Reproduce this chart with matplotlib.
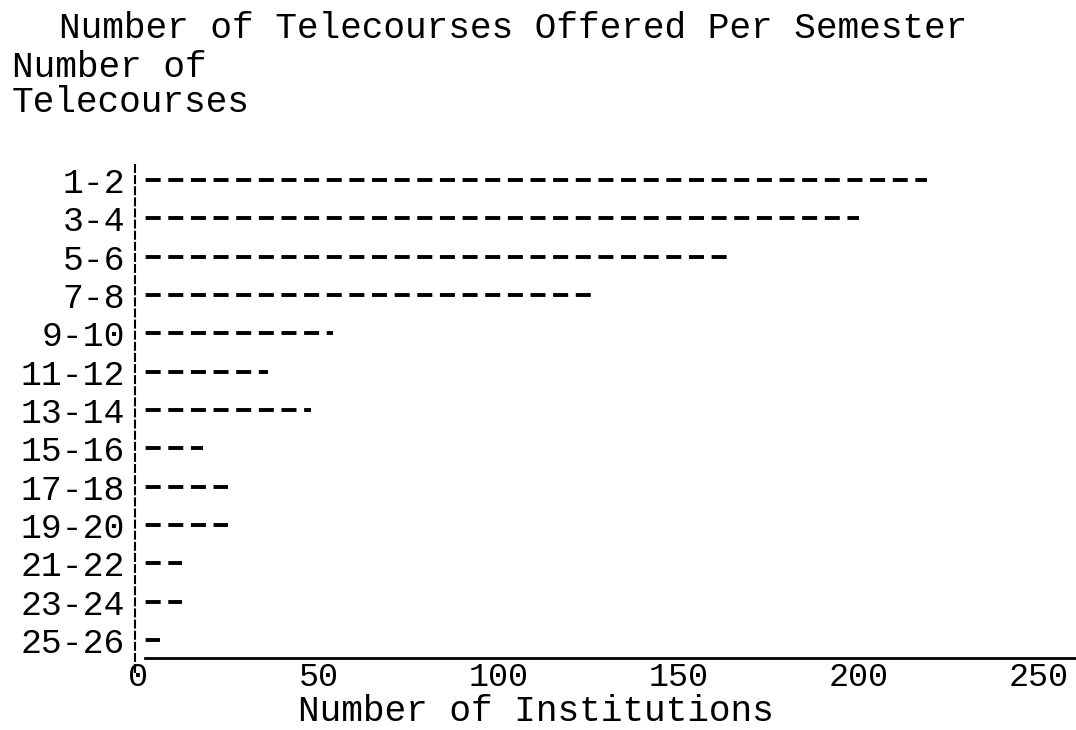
import matplotlib
matplotlib.use("Agg")
import matplotlib.pyplot as plt

categories = ["1-2", "3-4", "5-6", "7-8", "9-10", "11-12", "13-14",
              "15-16", "17-18", "19-20", "21-22", "23-24", "25-26"]
institutions = [219, 200, 164, 127, 54, 36, 48, 18, 25, 25, 12, 12, 6]
xticks = [0, 50, 100, 150, 200, 250]

plt.rcParams['lines.scale_dashes'] = False
FONT = "Liberation Mono"
W, H = 1076, 730

fig = plt.figure(figsize=(W / 100, H / 100), dpi=100)
# axes spans x 135..1076 px, y 165..672 px
ax = fig.add_axes([135 / W, (H - 672) / H, (W - 135) / W, (672 - 165) / H])

for s in ["top", "right"]:
    ax.spines[s].set_visible(False)
ax.spines["left"].set_linestyle((0, (5, 3)))
ax.spines["left"].set_linewidth(1.5)
ax.spines["bottom"].set_position(("data", 12.47))
ax.spines["bottom"].set_linewidth(2.0)

ypos = list(range(len(categories)))
ax.hlines(ypos, 0, institutions, colors="black", linewidth=2.8,
          linestyles=[(10.8, (10.8, 5.5))], capstyle="butt")

ax.set_xlim(-0.97, 260.4)
ax.set_ylim(12.835, -0.39)
ax.spines["bottom"].set_bounds(1.8, 260.4)
ax.set_yticks(ypos)
ax.set_yticklabels(categories, fontfamily=FONT, fontsize=25)
ax.set_xticks(xticks)
ax.set_xticklabels([str(t) for t in xticks], fontfamily=FONT, fontsize=24)
ax.tick_params(length=0)
ax.tick_params(axis='y', pad=7)
ax.tick_params(axis='x', pad=3)

fig.text(298 / W, 1 - 721 / H, "Number of Institutions", fontfamily=FONT,
         fontsize=26, ha="left", va="baseline")

fig.text(59 / W, 1 - 38 / H, "Number of Telecourses Offered Per Semester",
         fontfamily=FONT, fontsize=26, ha="left", va="baseline")
fig.text(12 / W, 1 - 77 / H, "Number of", fontfamily=FONT, fontsize=26,
         ha="left", va="baseline")
fig.text(12 / W, 1 - 112 / H, "Telecourses", fontfamily=FONT, fontsize=26,
         ha="left", va="baseline")

fig.savefig("out.png", dpi=100)
